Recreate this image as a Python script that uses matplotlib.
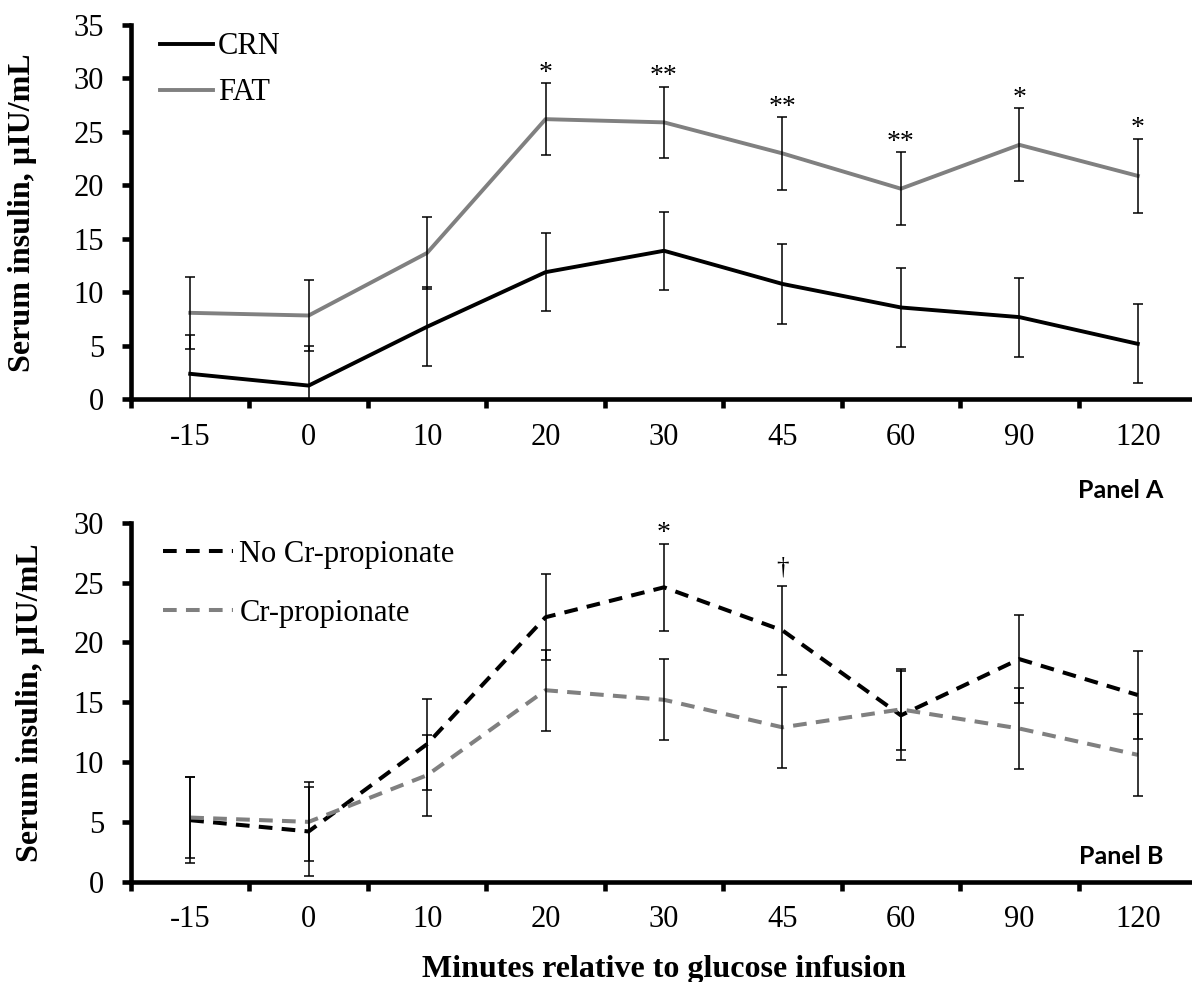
import matplotlib
matplotlib.use("Agg")
import matplotlib.pyplot as plt
import numpy as np
from matplotlib.ticker import FixedLocator

plt.rcParams['font.family'] = ['Liberation Serif', 'DejaVu Serif']

# ---------------- data ----------------
minutes = ['-15', '0', '10', '20', '30', '45', '60', '90', '120']

crn_mean = [2.4, 1.3, 6.8, 11.9, 13.9, 10.8, 8.6, 7.7, 5.2]
crn_se = [3.65, 3.66, 3.7, 3.66, 3.65, 3.7, 3.65, 3.7, 3.7]
fat_mean = [8.1, 7.85, 13.7, 26.2, 25.9, 23.0, 19.7, 23.8, 20.9]
fat_se = [3.37, 3.34, 3.4, 3.35, 3.35, 3.4, 3.4, 3.4, 3.45]
sig_a = ['', '', '', '*', '**', '**', '**', '*', '*']

nocr_mean = [5.14, 4.2, 11.5, 22.1, 24.6, 21.0, 13.9, 18.6, 15.6]
nocr_se = [3.6, 3.7, 3.8, 3.6, 3.65, 3.7, 3.7, 3.7, 3.65]
cr_mean = [5.36, 5.0, 8.9, 16.0, 15.2, 12.9, 14.4, 12.8, 10.6]
cr_se = [3.4, 3.3, 3.4, 3.4, 3.4, 3.37, 3.4, 3.4, 3.4]
sig_b = ['', '', '', '', '*', '\u2020', '', '', '']

GRAY = '#808080'
W, H = 1192, 982
fig = plt.figure(figsize=(W / 100, H / 100), dpi=100)

def px_axes(left, top, right, bottom):
    return fig.add_axes([left / W, 1 - bottom / H, (right - left) / W, (bottom - top) / H])

axA = px_axes(131, 25, 1197, 399.5)
axB = px_axes(131, 522.7, 1197, 881.7)

x = np.arange(len(minutes))
FS = 22
LFS = 23

def style(ax, ymax, label_x):
    ax.set_xlim(-0.5, len(minutes) - 0.5)
    ax.set_ylim(0, ymax)
    for s in ['top', 'right']:
        ax.spines[s].set_visible(False)
    for s in ['left', 'bottom']:
        ax.spines[s].set_linewidth(3.3)
    ax.set_yticks(np.arange(0, ymax + 0.1, 5))
    ax.tick_params(axis='y', direction='out', length=6.5, width=3.3, pad=13, labelsize=FS)
    ax.set_xticks(x)
    ax.set_xticklabels(minutes)
    ax.xaxis.set_minor_locator(FixedLocator(np.arange(-0.5, len(minutes), 1.0)))
    ax.tick_params(axis='x', which='major', length=0, pad=17, labelsize=FS)
    ax.tick_params(axis='x', which='minor', direction='out', length=6.5, width=3.3)
    ax.set_ylabel('Serum insulin, \u00b5IU/mL', fontsize=LFS, fontweight='bold')
    ax.yaxis.set_label_coords(label_x, 0.5)

# ---- Panel A ----
axA.plot(x, crn_mean, color='black', lw=2.8, label='CRN', zorder=2)
axA.plot(x, fat_mean, color=GRAY, lw=2.8, label='FAT', zorder=2)
axA.errorbar(x, crn_mean, yerr=crn_se, fmt='none', ecolor='black', elinewidth=1.1,
             capsize=3.8, capthick=1.1, zorder=3)
axA.errorbar(x, fat_mean, yerr=fat_se, fmt='none', ecolor='black', elinewidth=1.1,
             capsize=3.8, capthick=1.1, zorder=3)
for xi, m, e, s in zip(x, fat_mean, fat_se, sig_a):
    if s:
        axA.annotate(s, xy=(xi, m + e), xytext=(0, 2.5), textcoords='offset points',
                     ha='center', va='baseline', fontsize=20)
style(axA, 35, (37 - 131) / 1066)
legA = axA.legend(loc='upper left', bbox_to_anchor=(0.027, 0.98), frameon=False, fontsize=FS,
                  handlelength=1.75, handletextpad=0.15, labelspacing=0.55, borderaxespad=0.0,
                  borderpad=0.0)

# ---- Panel B ----
dash = (0, (3.4, 2.3))
axB.plot(x, nocr_mean, color='black', lw=2.9, ls=dash, label='No Cr-propionate', zorder=2)
axB.plot(x, cr_mean, color=GRAY, lw=2.9, ls=dash, label='Cr-propionate', zorder=2)
axB.errorbar(x, nocr_mean, yerr=nocr_se, fmt='none', ecolor='black', elinewidth=1.1,
             capsize=3.8, capthick=1.1, zorder=3)
axB.errorbar(x, cr_mean, yerr=cr_se, fmt='none', ecolor='black', elinewidth=1.1,
             capsize=3.8, capthick=1.1, zorder=3)
for xi, m, e, s in zip(x, nocr_mean, nocr_se, sig_b):
    if s:
        off = 2.5 if s == '*' else 9.0
        fs = 20 if s == '*' else 18
        axB.annotate(s, xy=(xi, m + e), xytext=(0, off), textcoords='offset points',
                     ha='center', va='baseline', fontsize=fs)
style(axB, 30, (45 - 131) / 1066)
axB.set_xlabel('Minutes relative to glucose infusion', fontsize=LFS, fontweight='bold', labelpad=15)
legB = axB.legend(loc='upper left', bbox_to_anchor=(0.030, 0.953), frameon=False, fontsize=FS,
                  handlelength=2.3, handletextpad=0.2, labelspacing=0.98, borderaxespad=0.0,
                  borderpad=0.0)

# panel labels
fig.text(1163 / W, 1 - 491 / H, 'Panel A', ha='right', va='center', fontsize=18,
         fontweight='bold', family=['Lato', 'DejaVu Sans'])
fig.text(1163 / W, 1 - 857 / H, 'Panel B', ha='right', va='center', fontsize=18,
         fontweight='bold', family=['Lato', 'DejaVu Sans'])

fig.savefig('out.png', dpi=100)
